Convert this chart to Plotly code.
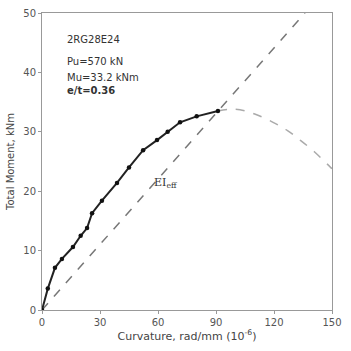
import plotly.graph_objects as go

# Measured moment-curvature data (black)
curv_meas = [0, 3.0, 6.7, 10.3, 16.0, 20.0, 23.3, 25.9, 31.0, 38.8, 45.0, 52.3, 59.5, 65.0, 71.4, 80.0, 91.0]
mom_meas = [0, 3.6, 7.1, 8.6, 10.6, 12.5, 13.8, 16.3, 18.4, 21.4, 24.0, 26.9, 28.6, 30.0, 31.6, 32.6, 33.5]

# Analytical continuation (gray dashed)
curv_ana = [91.0, 97.0, 102.4, 110.0, 119.5, 127.0, 133.5, 141.0, 149.0, 150.0]
mom_ana = [33.5, 33.8, 33.7, 33.0, 31.6, 30.2, 28.6, 26.6, 24.1, 23.8]

# EI_eff line
curv_ei = [0, 136]
mom_ei = [0, 50]

x_ticks = [0, 30, 60, 90, 120, 150]
y_ticks = [0, 10, 20, 30, 40, 50]

info_lines = ["2RG28E24", "Pu=570 kN", "Mu=33.2 kNm", "<b>e/t=0.36</b>"]
info_y = [45.6, 41.9, 39.1, 36.9]

fig = go.Figure()
fig.add_trace(go.Scatter(x=curv_ei, y=mom_ei, mode="lines",
                         line=dict(color="#777777", width=1.5, dash="dash"),
                         showlegend=False))
fig.add_trace(go.Scatter(x=curv_ana, y=mom_ana, mode="lines", line_shape="spline",
                         line=dict(color="#aaaaaa", width=1.5, dash="dash"),
                         showlegend=False))
fig.add_trace(go.Scatter(x=curv_meas, y=mom_meas, mode="lines+markers",
                         line=dict(color="#222222", width=2),
                         marker=dict(color="#111111", size=4.5),
                         showlegend=False))

for t, yv in zip(info_lines, info_y):
    fig.add_annotation(x=12, y=yv, xref="x", yref="y", text=t,
                       showarrow=False, xanchor="left", yanchor="middle",
                       font=dict(family="DejaVu Sans", size=10, color="#333333"))

fig.add_annotation(x=57, y=21.3, xref="x", yref="y",
                   text="EI<sub>eff</sub>", showarrow=False, xanchor="left",
                   font=dict(family="DejaVu Serif", size=11, color="#333333"))

fig.update_layout(
    width=351, height=351,
    margin=dict(l=42, r=19, t=13, b=41, autoexpand=False),
    paper_bgcolor="white", plot_bgcolor="white",
    font=dict(family="DejaVu Sans", size=10, color="#555555"),
)
fig.update_xaxes(range=[0, 150], tickvals=x_ticks, showgrid=False, zeroline=False,
                 automargin=False,
                 showline=True, linecolor="#999999", linewidth=1, mirror=True,
                 ticks="outside", ticklen=3, tickcolor="#999999",
                 title=dict(text="Curvature, rad/mm (10<sup>-6</sup>)", standoff=4,
                            font=dict(size=11, color="#444444")))
fig.update_yaxes(range=[0, 50], tickvals=y_ticks, showgrid=False, zeroline=False,
                 automargin=False,
                 showline=True, linecolor="#999999", linewidth=1, mirror=True,
                 ticks="outside", ticklen=3, tickcolor="#999999",
                 title=dict(text="Total Moment, kNm", standoff=6,
                            font=dict(size=10, color="#444444")))

fig.write_html("out.html")
